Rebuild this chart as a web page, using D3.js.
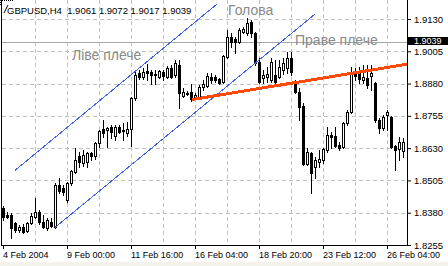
<!DOCTYPE html>
<html>
<head>
<meta charset="utf-8">
<script src="https://cdn.jsdelivr.net/npm/d3@7"></script>
<style>
  body { margin: 0; background: #fff; }
  svg { display: block; font-family: "Liberation Sans", Arial, sans-serif; }
</style>
</head>
<body>
<svg id="chart" width="448" height="266"></svg>
<script>
// GBPUSD H4, one bar every 4 hours from 4 Feb 2004
var openPrices = [
    1.8397, 1.8370, 1.8370, 1.8339, 1.8315, 1.8323, 1.8308, 1.8339, 1.8362, 1.8381,
    1.8343, 1.8319, 1.8343, 1.8323, 1.8486, 1.8474, 1.8428, 1.8494, 1.8536, 1.8598,
    1.8571, 1.8575, 1.8610, 1.8598, 1.8649, 1.8703, 1.8699, 1.8711, 1.8676, 1.8711,
    1.8699, 1.8688, 1.8703, 1.8823, 1.8920, 1.8905, 1.8928, 1.8924, 1.8913, 1.8905,
    1.8924, 1.8905, 1.8940, 1.8913, 1.8951, 1.8831, 1.8843, 1.8847, 1.8823, 1.8827,
    1.8866, 1.8870, 1.8905, 1.8905, 1.8897, 1.8886, 1.8983, 1.9060, 1.9052, 1.9041,
    1.9080, 1.9076, 1.9118, 1.9076, 1.8963, 1.8901, 1.8905, 1.8893, 1.8913, 1.8905,
    1.8932, 1.8940, 1.8979, 1.8882, 1.8847, 1.8792, 1.8567, 1.8610, 1.8556, 1.8575,
    1.8583, 1.8622, 1.8680, 1.8676, 1.8641, 1.8633, 1.8726, 1.8769, 1.8920, 1.8920,
    1.8893, 1.8901, 1.8909, 1.8882, 1.8738, 1.8707, 1.8757, 1.8750, 1.8637, 1.8626, 1.8618
];
var highPrices = [
    1.8405, 1.8381, 1.8377, 1.8343, 1.8331, 1.8335, 1.8343, 1.8377, 1.8436, 1.8389,
    1.8370, 1.8358, 1.8358, 1.8494, 1.8513, 1.8486, 1.8497, 1.8544, 1.8630, 1.8614,
    1.8622, 1.8614, 1.8614, 1.8653, 1.8699, 1.8738, 1.8711, 1.8719, 1.8719, 1.8719,
    1.8726, 1.8730, 1.8827, 1.8924, 1.8932, 1.8940, 1.8955, 1.8932, 1.8932, 1.8932,
    1.8932, 1.8948, 1.8951, 1.8971, 1.8971, 1.8862, 1.8850, 1.8878, 1.8843, 1.8874,
    1.8893, 1.8920, 1.8920, 1.8913, 1.8901, 1.8990, 1.9087, 1.9076, 1.9060, 1.9095,
    1.9099, 1.9134, 1.9126, 1.9080, 1.8979, 1.8932, 1.8944, 1.8979, 1.8971, 1.8971,
    1.8979, 1.9002, 1.9002, 1.8893, 1.8862, 1.8804, 1.8629, 1.8614, 1.8594, 1.8622,
    1.8629, 1.8711, 1.8691, 1.8711, 1.8653, 1.8730, 1.8777, 1.8944, 1.8940, 1.8944,
    1.8951, 1.8951, 1.8951, 1.8886, 1.8746, 1.8757, 1.8777, 1.8754, 1.8641, 1.8672, 1.8668
];
var lowPrices = [
    1.8350, 1.8358, 1.8281, 1.8304, 1.8304, 1.8300, 1.8304, 1.8335, 1.8358, 1.8335,
    1.8319, 1.8312, 1.8323, 1.8319, 1.8455, 1.8447, 1.8420, 1.8486, 1.8532, 1.8556,
    1.8560, 1.8556, 1.8583, 1.8587, 1.8633, 1.8672, 1.8633, 1.8668, 1.8660, 1.8688,
    1.8660, 1.8676, 1.8637, 1.8816, 1.8897, 1.8897, 1.8893, 1.8878, 1.8878, 1.8901,
    1.8893, 1.8901, 1.8901, 1.8905, 1.8785, 1.8827, 1.8835, 1.8812, 1.8820, 1.8823,
    1.8854, 1.8866, 1.8882, 1.8886, 1.8878, 1.8882, 1.8979, 1.9021, 1.8998, 1.9037,
    1.9076, 1.9068, 1.9060, 1.8951, 1.8882, 1.8882, 1.8886, 1.8886, 1.8882, 1.8901,
    1.8917, 1.8920, 1.8913, 1.8843, 1.8738, 1.8563, 1.8563, 1.8455, 1.8513, 1.8556,
    1.8571, 1.8614, 1.8629, 1.8633, 1.8622, 1.8629, 1.8719, 1.8765, 1.8893, 1.8882,
    1.8882, 1.8862, 1.8854, 1.8730, 1.8688, 1.8699, 1.8699, 1.8629, 1.8544, 1.8583, 1.8594
];
var closePrices = [
    1.8362, 1.8364, 1.8319, 1.8312, 1.8323, 1.8304, 1.8339, 1.8366, 1.8381, 1.8343,
    1.8323, 1.8350, 1.8327, 1.8486, 1.8466, 1.8459, 1.8494, 1.8540, 1.8583, 1.8575,
    1.8602, 1.8610, 1.8598, 1.8649, 1.8695, 1.8688, 1.8707, 1.8691, 1.8711, 1.8691,
    1.8695, 1.8703, 1.8823, 1.8913, 1.8905, 1.8924, 1.8920, 1.8913, 1.8917, 1.8928,
    1.8909, 1.8940, 1.8905, 1.8959, 1.8843, 1.8847, 1.8839, 1.8820, 1.8835, 1.8866,
    1.8878, 1.8909, 1.8893, 1.8893, 1.8882, 1.8986, 1.9060, 1.9041, 1.9041, 1.9087,
    1.9091, 1.9114, 1.9076, 1.8959, 1.8886, 1.8913, 1.8917, 1.8963, 1.8886, 1.8944,
    1.8959, 1.8979, 1.8924, 1.8847, 1.8789, 1.8567, 1.8614, 1.8532, 1.8583, 1.8587,
    1.8626, 1.8680, 1.8672, 1.8637, 1.8629, 1.8726, 1.8769, 1.8920, 1.8909, 1.8897,
    1.8905, 1.8874, 1.8920, 1.8738, 1.8707, 1.8750, 1.8769, 1.8633, 1.8622, 1.8653, 1.8653
];

var priceTicks = [1.9130, 1.9005, 1.8880, 1.8755, 1.8630, 1.8505, 1.8380, 1.8255];
var timeTickBars = [0, 16, 32, 48, 64, 80, 96];
var timeTickLabels = ["4 Feb 2004", "9 Feb 00:00", "11 Feb 16:00", "16 Feb 04:00",
                      "18 Feb 20:00", "23 Feb 12:00", "26 Feb 04:00"];
var gridBars = [8, 16, 24, 32, 40, 48, 56, 64, 72, 80, 88, 96];
var currentPrice = 1.9039;
var headerSymbol = "GBPUSD,H4";
var headerOHLC = ["1.9061", "1.9072", "1.9017", "1.9039"];

// drawn objects: [bar, price] end points
var channelUpper = [[3, 1.8544], [53.5, 1.9188]];
var channelLower = [[13, 1.8323], [78, 1.9149]];
var neckline = [[47.2, 1.8818], [101, 1.8955]];
var patternNames = ["Ліве плече", "Голова", "Праве плече"];
var patternBars = [17.25, 56.25, 73];
var patternPrices = [1.8971, 1.9145, 1.9029];

var svg = d3.select("#chart");
var plotLeft = 2, plotRight = 407, plotBottom = 245;

var x = d3.scaleLinear().domain([0, 101]).range([3, 407]);
var y = d3.scaleLinear().domain([1.8255, 1.9130]).range([245, 19]);

svg.append("defs").append("clipPath").attr("id", "plot")
    .append("rect").attr("x", plotLeft).attr("y", 0)
    .attr("width", plotRight - plotLeft).attr("height", plotBottom);

// grid
var grid = svg.append("g").attr("stroke", "#c0c0c0").attr("stroke-dasharray", "4,3");
grid.selectAll("line.h").data(priceTicks.slice(0, -1)).enter().append("line")
    .attr("x1", plotLeft).attr("x2", plotRight)
    .attr("y1", function(d){ return Math.round(y(d)) + 0.5; })
    .attr("y2", function(d){ return Math.round(y(d)) + 0.5; });
grid.selectAll("line.v").data(gridBars).enter().append("line")
    .attr("y1", 0).attr("y2", plotBottom)
    .attr("x1", function(d){ return Math.round(x(d)) + 0.5; })
    .attr("x2", function(d){ return Math.round(x(d)) + 0.5; });

// current bid line
var cy = Math.floor(y(currentPrice));
svg.append("line")
    .attr("x1", plotLeft).attr("x2", plotRight)
    .attr("y1", cy + 0.5).attr("y2", cy + 0.5)
    .attr("stroke", "#a8a8a8");

// candles
var candles = svg.append("g").attr("clip-path", "url(#plot)");
var bars = candles.selectAll("g").data(d3.range(openPrices.length)).enter().append("g");
bars.append("line")
    .attr("x1", function(i){ return Math.round(x(i)) + 0.5; })
    .attr("x2", function(i){ return Math.round(x(i)) + 0.5; })
    .attr("y1", function(i){ return Math.round(y(highPrices[i])); })
    .attr("y2", function(i){ return Math.round(y(lowPrices[i])) + 1; })
    .attr("stroke", "#000");
bars.append("rect")
    .attr("x", function(i){ return Math.round(x(i)) - 0.5; })
    .attr("width", 2)
    .attr("y", function(i){ return Math.round(y(Math.max(openPrices[i], closePrices[i]))) + 0.5; })
    .attr("height", function(i){
        return Math.round(y(Math.min(openPrices[i], closePrices[i]))) -
               Math.round(y(Math.max(openPrices[i], closePrices[i])));
    })
    .attr("fill", function(i){ return closePrices[i] >= openPrices[i] ? "#fff" : "#000"; })
    .attr("stroke", "#000");

// channel and neckline
var line = d3.line()
    .x(function(d){ return x(d[0]); })
    .y(function(d){ return y(d[1]); });
var objects = svg.append("g").attr("clip-path", "url(#plot)").attr("fill", "none");
[channelUpper, channelLower].forEach(function(pts){
    objects.append("path").attr("d", line(pts))
        .attr("stroke", "#3c62e4").attr("stroke-width", 1)
        .attr("shape-rendering", "crispEdges");
});
objects.append("path").attr("d", line(neckline))
    .attr("stroke", "#ff4a0a").attr("stroke-width", 3)
    .attr("shape-rendering", "crispEdges");

// pattern labels
svg.append("g").selectAll("text").data(patternNames).enter().append("text")
    .attr("x", function(d, i){ return x(patternBars[i]); })
    .attr("y", function(d, i){ return y(patternPrices[i]); })
    .attr("fill", "#8a8a8a")
    .attr("font-size", "14px")
    .text(function(d){ return d; });

// frame
svg.append("line").attr("x1", 1.5).attr("x2", 1.5).attr("y1", 0).attr("y2", plotBottom + 1)
    .attr("stroke", "#000");
svg.append("line").attr("x1", 1).attr("x2", plotRight + 1)
    .attr("y1", plotBottom + 0.5).attr("y2", plotBottom + 0.5).attr("stroke", "#000");
svg.append("line").attr("x1", plotRight + 0.5).attr("x2", plotRight + 0.5)
    .attr("y1", 0).attr("y2", plotBottom + 1).attr("stroke", "#000");

// price axis
var yAxis = d3.axisRight(y)
    .tickValues(priceTicks)
    .tickFormat(d3.format(".4f"))
    .tickSize(4)
    .tickSizeOuter(0);
var yg = svg.append("g").attr("transform", "translate(" + plotRight + ",0)").call(yAxis);
yg.select(".domain").remove();
yg.selectAll("text").attr("font-family", "Liberation Sans, Arial, sans-serif")
    .attr("font-size", "9.5px").attr("fill", "#000");

// current price marker
svg.append("rect").attr("x", plotRight + 1).attr("y", cy - 5)
    .attr("width", 448 - plotRight - 1).attr("height", 8).attr("fill", "#000");
svg.append("text").attr("x", plotRight + 7).attr("y", cy - 1).attr("dy", "0.32em")
    .attr("font-size", "9px").attr("fill", "#fff")
    .text(d3.format(".4f")(currentPrice));

// time axis
var xAxis = d3.axisBottom(x)
    .tickValues(timeTickBars)
    .tickFormat(function(d, i){ return timeTickLabels[i]; })
    .tickSize(4)
    .tickSizeOuter(0);
var xg = svg.append("g").attr("transform", "translate(0," + plotBottom + ")").call(xAxis);
xg.select(".domain").remove();
xg.selectAll("text").attr("text-anchor", "start").attr("x", -0.5)
    .attr("font-family", "Liberation Sans, Arial, sans-serif")
    .attr("font-size", "9px").attr("fill", "#000");

svg.append("rect").attr("x", 0).attr("y", 262).attr("width", 448).attr("height", 4)
    .attr("fill", "#f4f2ea");

// header
svg.append("path").attr("d", "M0.5,5V0.5H14").attr("fill", "none")
    .attr("stroke", "#000").attr("stroke-dasharray", "1,1");
svg.append("line").attr("x1", 4).attr("y1", 13).attr("x2", 8).attr("y2", 5).attr("stroke", "#000");
svg.append("text").attr("x", 7).attr("y", 13.5)
    .attr("font-size", "9.5px").attr("fill", "#000")
    .attr("xml:space", "preserve")
    .text(headerSymbol + "  " + headerOHLC.join(" "));
</script>
</body>
</html>
